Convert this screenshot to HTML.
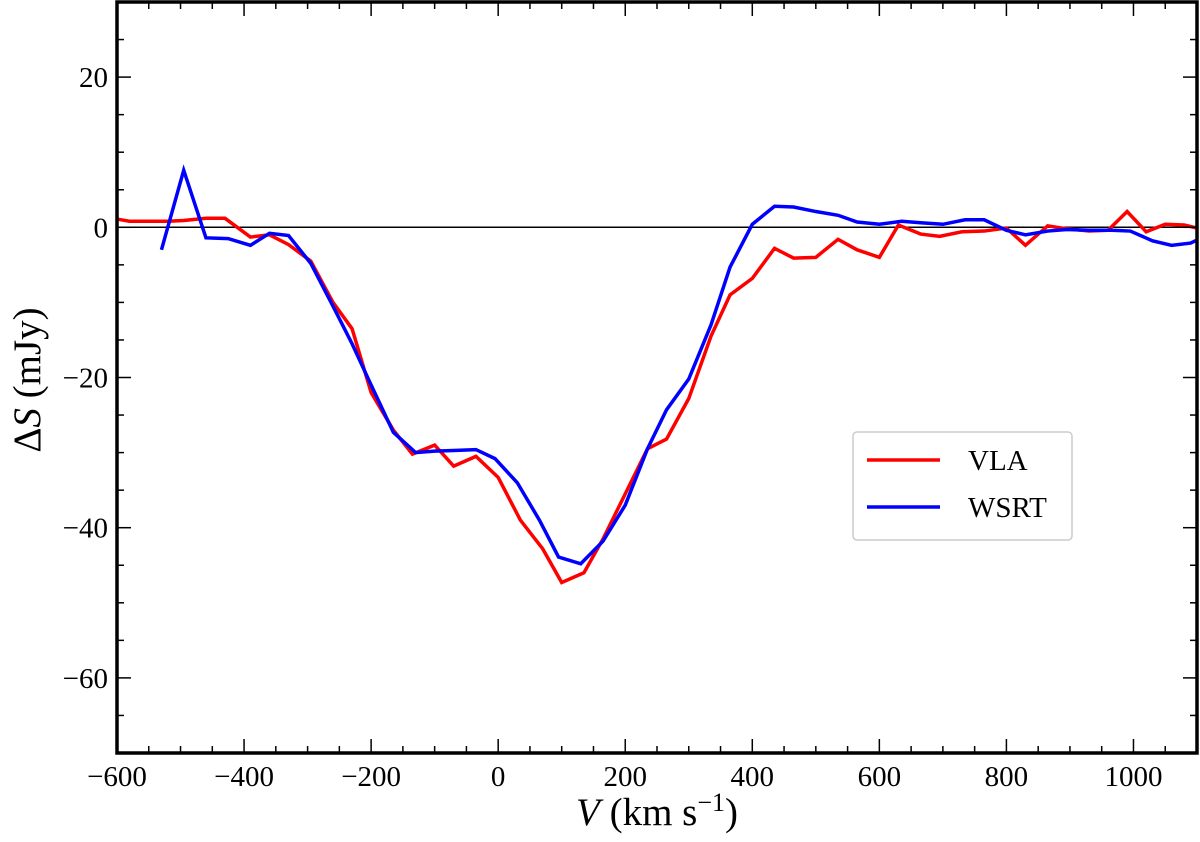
<!DOCTYPE html>
<html><head><meta charset="utf-8"><style>
body{margin:0;background:#fff}
text{font-family:"Liberation Serif","DejaVu Serif",serif;fill:#000}
</style></head><body>
<svg id="chart" width="1200" height="837" xmlns="http://www.w3.org/2000/svg">
<g id="marks"></g>
<rect x="117" y="2" width="1080" height="751" fill="none" stroke="#000" stroke-width="3.5"/>
<g id="ticks"></g>
<text x="657" y="825" font-size="39" text-anchor="middle"><tspan font-style="italic">V</tspan>  (km s<tspan baseline-shift="super" font-size="26">−1</tspan>)</text>
<text transform="translate(40,380) rotate(-90)" font-size="39" text-anchor="middle">Δ<tspan font-style="italic">S</tspan> (mJy)</text>
<g>
<rect x="853" y="432" width="219" height="108" rx="4" fill="#fff" stroke="#ccc" stroke-width="1.5"/>
<line x1="867" y1="460" x2="940" y2="460" stroke="#f00" stroke-width="3.5"/>
<text x="968" y="470" font-size="29">VLA</text>
<line x1="867" y1="507" x2="940" y2="507" stroke="#00f" stroke-width="3.5"/>
<text x="968" y="517" font-size="29">WSRT</text>
</g>
</svg>
<script>
const vlaV=[-600,-580,-550,-520,-495,-460,-430,-390,-360,-330,-295,-260,-230,-200,-165,-135,-100,-70,-35,0,35,70,100,135,165,200,235,265,300,335,365,400,435,465,500,535,565,600,630,665,695,730,765,800,830,865,895,930,960,990,1020,1050,1080,1100];
const vlaS=[1.1,0.8,0.8,0.8,0.9,1.2,1.2,-1.3,-1.0,-2.3,-4.5,-10,-13.5,-22,-27,-30.2,-29,-31.8,-30.5,-33.3,-39,-42.8,-47.3,-46,-41.5,-35.5,-29.5,-28.2,-22.8,-14.5,-9,-6.8,-2.8,-4.1,-4,-1.6,-3,-4,0.3,-0.9,-1.2,-0.6,-0.5,-0.1,-2.4,0.2,-0.2,-0.5,-0.4,2.1,-0.6,0.4,0.3,-0.1];
const wsrtV=[-530,-495,-460,-425,-390,-360,-330,-295,-260,-230,-200,-165,-130,-100,-65,-35,-5,30,65,95,130,165,200,235,265,300,335,365,400,435,465,500,535,565,600,635,665,700,735,765,800,830,865,895,930,965,995,1030,1060,1090,1100];
const wsrtS=[-3,7.6,-1.4,-1.5,-2.4,-0.8,-1.1,-4.8,-10.5,-15.5,-21,-27.3,-30,-29.8,-29.7,-29.6,-30.8,-34,-39,-43.9,-44.8,-41.8,-37,-29.5,-24.3,-20.2,-13,-5.3,0.4,2.8,2.7,2.1,1.6,0.7,0.4,0.8,0.6,0.4,1.0,1.0,-0.4,-1.0,-0.5,-0.3,-0.4,-0.4,-0.5,-1.8,-2.4,-2.1,-1.7];
const xTicks=[-600,-400,-200,0,200,400,600,800,1000];
const yTicks=[20,0,-20,-40,-60];
const L=117,R=1197,T=2,B=753,xmin=-600,xmax=1100,ymin=-70,ymax=30;
const X=v=>L+(v-xmin)/(xmax-xmin)*(R-L);
const Y=s=>B-(s-ymin)/(ymax-ymin)*(B-T);
const NS='http://www.w3.org/2000/svg';
const marks=document.getElementById('marks'),ticks=document.getElementById('ticks');
function mk(tag,attrs,parent){const e=document.createElementNS(NS,tag);for(const k in attrs)e.setAttribute(k,attrs[k]);parent.appendChild(e);return e;}
const zl=mk('line',{x1:L,x2:R,y1:Y(0),y2:Y(0),stroke:'#000','stroke-width':1.5},marks);


function series(vs,ss,color,name){
  const p=mk('polyline',{points:vs.map((v,i)=>X(v)+','+Y(ss[i])).join(' '),fill:'none',stroke:color,'stroke-width':3.5,'stroke-linejoin':'miter'},marks);
  
  
}
series(vlaV,vlaS,'#f00','vla-line');
series(wsrtV,wsrtS,'#00f','wsrt-line');
for(let v=-600;v<=1100;v+=50){
  const maj=v%200===0,len=maj?14:7;
  mk('line',{x1:X(v),x2:X(v),y1:B,y2:B-len,stroke:'#000','stroke-width':1.5},ticks);
  mk('line',{x1:X(v),x2:X(v),y1:T,y2:T+len,stroke:'#000','stroke-width':1.5},ticks);
}
for(let s=-70;s<=30;s+=5){
  const maj=s%20===0,len=maj?14:7;
  mk('line',{x1:L,x2:L+len,y1:Y(s),y2:Y(s),stroke:'#000','stroke-width':1.5},ticks);
  mk('line',{x1:R,x2:R-len,y1:Y(s),y2:Y(s),stroke:'#000','stroke-width':1.5},ticks);
}
xTicks.forEach(v=>{
  const t=mk('text',{x:X(v),y:786,'font-size':29,'text-anchor':'middle'},ticks);
  t.textContent=v<0?'−'+(-v):String(v);
  
  
});
yTicks.forEach(s=>{
  const t=mk('text',{x:108,y:Y(s)+10,'font-size':29,'text-anchor':'end'},ticks);
  t.textContent=s<0?'−'+(-s):String(s);
  
  
});
</script>
</body></html>
